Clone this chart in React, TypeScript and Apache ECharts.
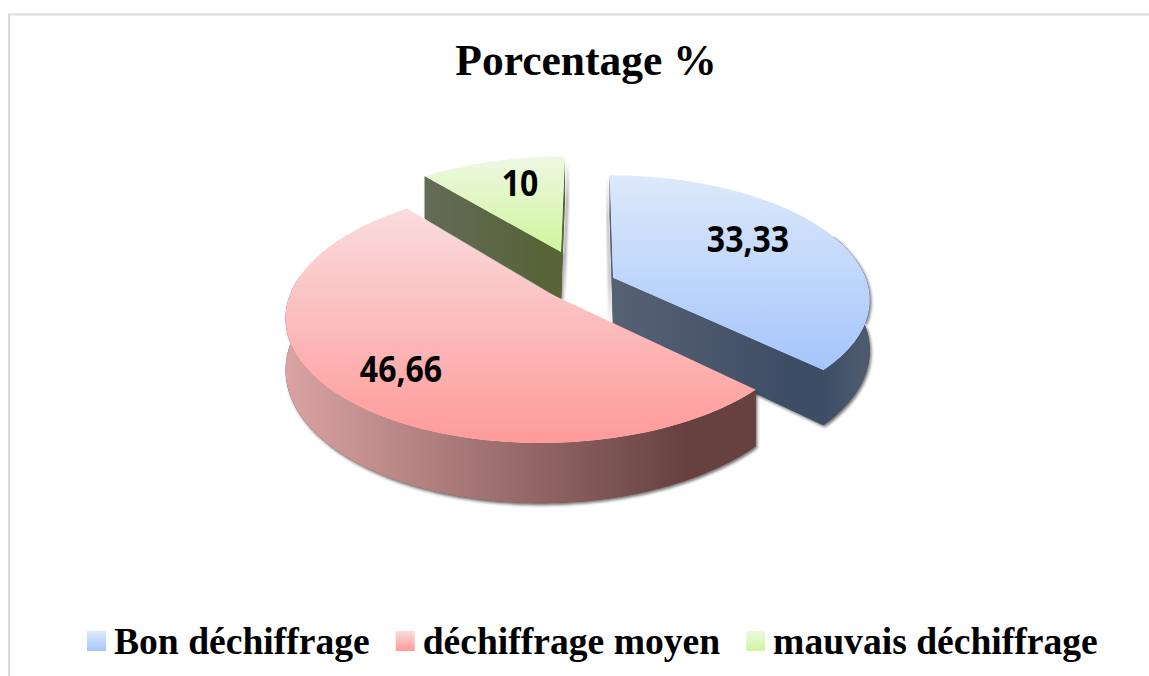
import React, { useEffect, useRef } from "react";
import * as echarts from "echarts";

const categories = ["Bon déchiffrage", "déchiffrage moyen", "mauvais déchiffrage"];
const values = [33.33, 46.66, 10];
const labels = ["33,33", "46,66", "10"];
const titleText = "Porcentage %";

// projection of the tilted disc
const RX = 258, RY = 124.5, K = 0.17, DEPTH = 50, XV = 590, YH = 293;
const offsets = [[0.091, -0.126], [-0.16, 0], [-0.119, -0.3485]];
const labelPos = [[748, 238], [401, 368], [520, 182]];
const topColors = [["#dde9fb", "#a5c5fb"], ["#fadcdd", "#ff9a9a"], ["#eef8e2", "#d0f59c"]];
const wallColors = [["#566173", "#3e4d66"], ["#dba3a3", "#664140"], ["#646b58", "#566438"]];

const total = values.reduce((a, b) => a + b, 0);
const lin = (a: string, b: string, horizontal = false) =>
  new echarts.graphic.LinearGradient(0, 0, horizontal ? 1 : 0, horizontal ? 0 : 1, [
    { offset: 0, color: a },
    { offset: horizontal ? 0.85 : 1, color: b },
  ]);

function project(idx: number, u: number, v: number, lift = 0) {
  const U = u + offsets[idx][0];
  const V = v + offsets[idx][1];
  const s = 1 / (1 - K * V);
  return [XV + U * RX * s, YH + RY * V * s + lift * s];
}

function pt(idx: number, theta: number, lift = 0) {
  return project(idx, Math.sin(theta), -Math.cos(theta), lift);
}

function arcPts(idx: number, a0: number, a1: number, lift = 0) {
  const out: number[][] = [];
  const n = Math.max(2, Math.ceil(Math.abs(a1 - a0) / 0.02));
  for (let i = 0; i <= n; i++) out.push(pt(idx, a0 + ((a1 - a0) * i) / n, lift));
  return out;
}

function makeRender(idx: number) {
  return (_params: any, api: any) => {
    const val = api.value(0);
    const before = values.slice(0, idx).reduce((a, b) => a + b, 0);
    const a0 = (before / total) * Math.PI * 2;
    const a1 = a0 + (val / total) * Math.PI * 2;
    const apex = project(idx, 0, 0);
    const apexB = project(idx, 0, 0, DEPTH);
    const [c0, c1] = wallColors[idx];
    const walls: { pts: number[][]; from: string; to: string; dx?: number }[] = [];
    if (idx === 0) {
      walls.push({ pts: [pt(idx, a0), apex, apexB, pt(idx, a0, DEPTH)], from: c0, to: c0, dx: -2.5 });
      walls.push({ pts: [...arcPts(idx, 1.2, a1), ...arcPts(idx, a1, 1.2, DEPTH)], from: c1, to: "#4d5a6e" });
      walls.push({ pts: [apex, pt(idx, a1), pt(idx, a1, DEPTH), apexB], from: c0, to: c1 });
    } else if (idx === 1) {
      walls.push({ pts: [...arcPts(idx, a0, 4.85), ...arcPts(idx, 4.85, a0, DEPTH)], from: c0, to: c1 });
    } else {
      walls.push({ pts: [apex, pt(idx, a1), pt(idx, a1, DEPTH), apexB], from: c1, to: c1, dx: 3 });
      walls.push({ pts: [pt(idx, a0), apex, apexB, pt(idx, a0, DEPTH)], from: c0, to: c1 });
    }
    const children: any[] = [];
    // soft shadows first, crisp walls on top of them
    walls.forEach((w) =>
      children.push({
        type: "polygon",
        shape: { points: w.pts },
        style: {
          fill: c1,
          shadowBlur: 3,
          shadowColor: "rgba(0,0,0,0.55)",
          shadowOffsetX: w.dx ?? 1.5,
          shadowOffsetY: 2,
        },
      })
    );
    walls.forEach((w) =>
      children.push({
        type: "polygon",
        shape: { points: w.pts },
        style: { fill: lin(w.from, w.to, true) },
      })
    );
    children.push({
      type: "polygon",
      shape: { points: [apex, ...arcPts(idx, a0, a1)] },
      style: { fill: lin(topColors[idx][0], topColors[idx][1]) },
    });
    children.push({
      type: "text",
      x: labelPos[idx][0],
      y: labelPos[idx][1],
      scaleY: 1.12,
      style: {
        text: labels[idx],
        fill: "#000",
        font: 'bold 32px "Open Sans", sans-serif',
        align: "center",
        verticalAlign: "middle",
      },
    });
    return { type: "group", children };
  };
}

export default function App() {
  const ref = useRef<HTMLDivElement>(null);
  useEffect(() => {
    document.body.style.margin = "0";
    const chart = echarts.init(ref.current!, undefined, { renderer: "svg" });
    const order = [2, 0, 1];
    chart.setOption({
      animation: false,
      backgroundColor: "#fff",
      title: {
        text: titleText,
        left: 581,
        top: 33,
        textAlign: "center",
        textStyle: { fontFamily: "Liberation Serif", fontWeight: "bold", fontSize: 43.5, color: "#000" },
      },
      legend: {
        data: categories,
        left: 82,
        top: 617,
        itemWidth: 19,
        itemHeight: 20,
        itemGap: 26,
        icon: "rect",
        selectedMode: false,
        textStyle: { fontFamily: "Liberation Serif", fontWeight: "bold", fontSize: 37.6, color: "#000", padding: [0, 0, 0, 3] },
      },
      graphic: [
        {
          type: "rect",
          silent: true,
          z: -1,
          shape: { x: 9, y: 14.5, width: 1200, height: 700 },
          style: { fill: "none", stroke: "#dcdcdc", lineWidth: 2 },
        },
      ],
      series: order.map((idx) => ({
        type: "custom",
        name: categories[idx],
        coordinateSystem: "none",
        renderItem: makeRender(idx),
        itemStyle: { color: lin(topColors[idx][0], topColors[idx][1]) },
        data: [[values[idx]]],
        silent: true,
      })),
    });
    return () => chart.dispose();
  }, []);
  return <div ref={ref} style={{ width: 1149, height: 676 }} />;
}
